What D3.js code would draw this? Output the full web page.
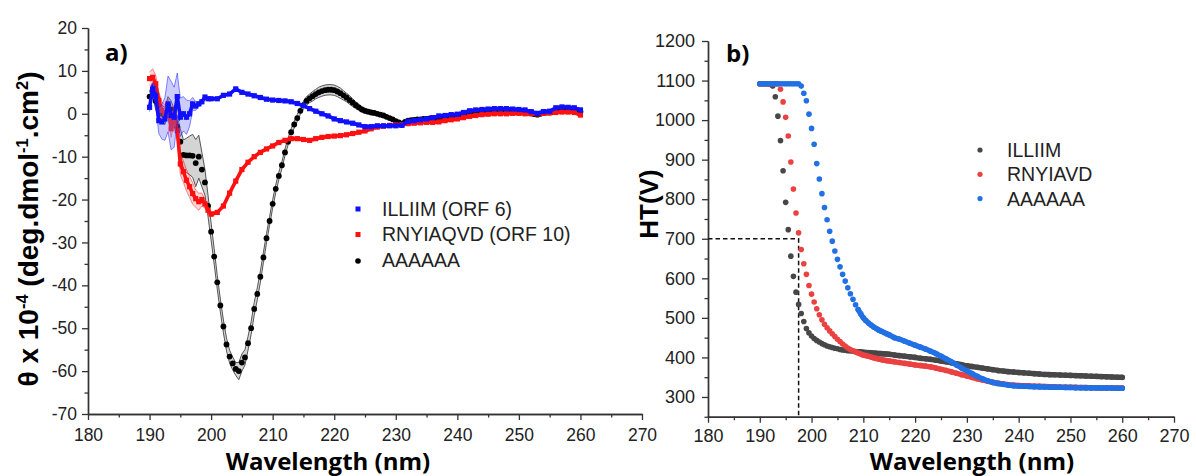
<!DOCTYPE html>
<html>
<head>
<meta charset="utf-8">
<script src="https://cdn.jsdelivr.net/npm/d3@7"></script>
<style>
  body { margin: 0; background: #fff; }
  svg { display: block; }
</style>
</head>
<body>
<div id="chart"></div>
<script>
// ---------- data (a) CD spectra ----------
// sampling grids (nm)
const cdWaveFine = d3.range(190, 260.01, 0.5);                            // AAAAAA
const cdWave = d3.range(190, 200.01, 0.5).concat(d3.range(201, 260.01, 1)); // ILLIIM, RNYIAQVD

const cdAla = [
  4.0, 5.5, 3.0, 1.0, 0.0, -0.5, 2.0, 1.0, -1.0, -3.0,
  -6.5, -9.6, -9.7, -9.7, -9.8, -11.5, -10.0, -13.0, -16.0, -21.5,
  -27.5, -33.3, -39.3, -44.7, -49.6, -53.8, -56.6, -58.2, -59.5, -60.0,
  -58.0, -56.8, -53.5, -50.0, -45.5, -42.0, -38.0, -33.5, -29.0, -25.0,
  -21.0, -17.5, -14.5, -12.0, -9.0, -6.5, -4.3, -2.5, -1.0, 0.7,
  2.0, 3.0, 3.6, 4.1, 4.6, 5.0, 5.3, 5.5, 5.6, 5.6,
  5.5, 5.2, 4.8, 4.3, 3.8, 3.2, 2.6, 2.0, 1.5, 1.0,
  0.7, 0.5, 0.3, 0.2, 0.0, -0.2, -0.4, -0.7, -1.0, -1.3,
  -1.7, -2.0, -2.3, -1.9, -1.6, -1.5, -1.4, -1.3, -1.3, -1.2,
  -1.2, -1.1, -1.0, -1.0, -0.9, -0.8, -0.7, -0.6, -0.5, -0.5,
  -0.4, -0.3, -0.2, -0.1, 0.0, 0.1, 0.2, 0.3, 0.4, 0.4,
  0.5, 0.5, 0.6, 0.6, 0.6, 0.6, 0.6, 0.7, 0.7, 0.7,
  0.6, 0.5, 0.4, 0.3, 0.1, -0.1, -0.2, 0.0, 0.2, 0.3,
  0.3, 0.4, 0.5, 0.6, 0.7, 0.8, 0.8, 0.8, 0.7, 0.6,
  0.5
];
const cdAlaErr = [
  1.0, 1.5, 2.0, 2.0, 2.0, 2.0, 2.0, 2.0, 2.0, 2.5,
  3.0, 3.5, 4.0, 4.5, 5.0, 5.5, 5.0, 4.0, 3.0, 2.5,
  2.0, 1.8, 1.6, 1.5, 1.5, 1.5, 1.5, 1.5, 1.5, 2.0,
  2.0, 1.8, 1.6, 1.5, 1.5, 1.4, 1.3, 1.2, 1.1, 1.0,
  1.0, 0.9, 0.9, 0.8, 0.8, 0.8, 0.8, 0.8, 0.8, 0.8,
  0.9, 1.0, 1.0, 1.1, 1.1, 1.2, 1.2, 1.2, 1.2, 1.2,
  1.2, 1.2, 1.2, 1.1, 1.0, 1.0, 0.9, 0.8, 0.7, 0.6,
  0.6, 0.5, 0.5, 0.5, 0.4, 0.4, 0.4, 0.3, 0.3, 0.3,
  0.3, 0.3, 0.3, 0.3, 0.3, 0.3, 0.3, 0.3, 0.3, 0.3,
  0.3, 0.3, 0.3, 0.3, 0.3, 0.3, 0.3, 0.3, 0.3, 0.3,
  0.3, 0.3, 0.3, 0.3, 0.3, 0.3, 0.3, 0.3, 0.3, 0.3,
  0.3, 0.3, 0.3, 0.3, 0.3, 0.3, 0.3, 0.3, 0.3, 0.3,
  0.3, 0.3, 0.3, 0.3, 0.3, 0.3, 0.3, 0.3, 0.3, 0.3,
  0.3, 0.3, 0.3, 0.3, 0.3, 0.3, 0.3, 0.3, 0.3, 0.3,
  0.3
];

const cdOrf6 = [
  1.5, 5.8, 4.2, -1.6, -1.9, -1.2, 2.3, -0.4, -0.8, 4.0,
  -0.8, 0.0, -0.8, 0.0, 2.3, 1.8, 2.3, 2.8, 3.9, 3.5, 3.5,
  3.5, 4.3, 4.6, 5.8, 5.0, 4.6, 4.2, 3.8, 3.4, 3.2,
  3.1, 3.0, 2.8, 2.4, 1.9, 1.2, 0.6, 0.0, -0.5, -1.2,
  -1.6, -1.9, -2.2, -2.6, -3.0, -3.0, -2.8, -2.8, -2.8, -2.8,
  -2.7, -1.8, -1.6, -1.4, -1.2, -0.9, -0.5, -0.4, -0.2, -0.1,
  0.3, 0.7, 0.9, 1.0, 1.1, 1.2, 1.2, 1.2, 1.1, 1.0,
  0.9, 0.5, 0.1, 0.5, 0.6, 1.4, 1.6, 1.5, 1.4, 0.9
];
const cdOrf6Err = [
  1.0, 1.5, 2.0, 3.0, 4.0, 5.0, 6.5, 8.0, 7.0, 5.5,
  4.5, 4.0, 4.0, 3.0, 1.5, 1.0, 0.6, 0.5, 0.5, 0.4, 0.4,
  0.3, 0.3, 0.3, 0.3, 0.3, 0.3, 0.3, 0.3, 0.3, 0.3,
  0.3, 0.3, 0.3, 0.3, 0.3, 0.3, 0.3, 0.3, 0.3, 0.3,
  0.3, 0.3, 0.3, 0.3, 0.3, 0.3, 0.3, 0.3, 0.3, 0.3,
  0.3, 0.3, 0.3, 0.3, 0.3, 0.3, 0.3, 0.3, 0.3, 0.3,
  0.3, 0.3, 0.3, 0.3, 0.3, 0.3, 0.3, 0.3, 0.3, 0.3,
  0.3, 0.3, 0.3, 0.3, 0.3, 0.3, 0.3, 0.3, 0.3, 0.3
];

const cdOrf10 = [
  8.2, 8.5, 7.0, 3.1, 0.8, 0.0, 1.5, -3.5, 0.0, -3.9,
  -11.7, -13.5, -15.5, -17.0, -18.6, -19.8, -20.5, -20.0, -21.0, -22.5, -23.4,
  -23.0, -21.5, -18.5, -15.7, -13.0, -11.3, -10.0, -9.0, -8.2, -7.5,
  -6.7, -6.2, -5.8, -5.8, -6.0, -6.2, -5.8, -5.5, -5.3, -5.2,
  -5.1, -4.9, -4.6, -4.3, -4.0, -3.5, -3.1, -2.9, -2.7, -2.6,
  -2.5, -2.3, -2.2, -2.1, -2.0, -2.0, -1.9, -1.6, -1.4, -1.2,
  -0.9, -0.6, -0.4, -0.2, -0.1, 0.0, 0.0, 0.0, 0.1, 0.1,
  0.0, 0.0, 0.0, 0.1, 0.2, 0.3, 0.4, 0.4, 0.3, -0.3
];
const cdOrf10Err = [
  1.5, 2.0, 2.0, 2.0, 2.0, 2.0, 2.0, 2.0, 2.0, 2.0,
  2.5, 2.5, 2.5, 2.5, 2.5, 2.0, 2.0, 1.5, 1.0, 0.8, 0.6,
  0.3, 0.3, 0.3, 0.3, 0.3, 0.3, 0.3, 0.3, 0.3, 0.3,
  0.3, 0.3, 0.3, 0.3, 0.3, 0.3, 0.3, 0.3, 0.3, 0.3,
  0.3, 0.3, 0.3, 0.3, 0.3, 0.3, 0.3, 0.3, 0.3, 0.3,
  0.3, 0.3, 0.3, 0.3, 0.3, 0.3, 0.3, 0.3, 0.3, 0.3,
  0.3, 0.3, 0.3, 0.3, 0.3, 0.3, 0.3, 0.3, 0.3, 0.3,
  0.3, 0.3, 0.3, 0.3, 0.3, 0.3, 0.3, 0.3, 0.3, 0.3
];

// ---------- data (b) HT voltage ----------
const htWave = d3.range(190, 215.01, 0.5).concat(d3.range(216, 260.01, 1));

const htIlliim = [
  1092, 1092, 1092, 1092, 1090, 1086, 1059, 1010, 948, 872,
  792, 723, 656, 605, 565, 534, 511, 491, 473, 462,
  454, 448, 443, 439, 435, 432, 429, 427, 425, 423,
  422, 420, 419, 418, 417, 416.5, 416, 415, 414.5, 414,
  413, 412.5, 412, 411.5, 411, 410.5, 410, 409.5, 409, 408.5,
  408,
  406, 404.5, 403, 401.5, 400, 398, 396.5, 395, 393, 391,
  389, 386.5, 384, 381.5, 379, 377, 375, 373, 371, 369,
  367, 365.5, 364, 363, 362, 361, 360, 359, 358, 357,
  356.5, 356, 355.5, 355, 354.5, 354, 353.5, 353, 352.5, 352,
  351.5, 351, 350.5, 350, 349.5
];
const htRnyiavd = [
  1092, 1092, 1092, 1092, 1092, 1092, 1092, 1092, 1078, 1046,
  1007, 960, 894, 826, 765, 715, 673, 637, 610, 582,
  560, 540, 523, 508, 495, 484, 475, 467, 460, 453,
  446, 440, 434, 429, 424, 420, 417, 414, 411, 408.5,
  406, 404.5, 403, 401, 399, 397.5, 396, 394.5, 393, 392,
  391,
  389, 387, 385, 383, 381, 379.5, 378, 376, 373, 370,
  367, 363.5, 360, 356.5, 353, 349.5, 346, 343, 340, 337,
  335, 333, 331, 330, 329, 328.5, 328, 327.5, 327, 326.5,
  326, 325.5, 325, 325, 324.5, 324.5, 324, 324, 323.5, 323.5,
  323, 323, 323, 322.5, 322.5
];
const htAla = [
  1092, 1092, 1092, 1092, 1092, 1092, 1092, 1092, 1092, 1092,
  1092, 1092, 1092, 1092, 1092, 1092, 1086, 1068, 1049, 1015,
  979, 939, 890, 851, 814, 779, 748, 719, 694, 669,
  648, 629, 610, 593, 576, 561, 547, 533, 521, 510,
  500, 493, 487, 482, 477, 473, 469, 466, 463, 460,
  457,
  450, 446, 441, 436, 431, 426, 421, 415.5, 410, 403,
  396, 389, 381, 373, 366, 359, 352, 346, 341, 337,
  334, 332, 330, 328.5, 327.5, 327, 326.5, 326, 325.5, 325,
  325, 324.5, 324.5, 324, 324, 323.5, 323.5, 323, 323, 323,
  322.5, 322.5, 322.5, 322, 322
];

// 700 V cut-off guide
const cutVoltage = 700;
const cutWave = 197.5;

// axes ticks
const waveTicks = d3.range(180, 271, 10);
const waveMinor = d3.range(185, 270, 10);
const cdTicks = d3.range(-70, 21, 10);
const cdMinor = d3.range(-65, 20, 10);
const htTicks = d3.range(300, 1201, 100);
const htMinor = d3.range(250, 1200, 100);

const cdLegend = ['ILLIIM (ORF 6)', 'RNYIAQVD (ORF 10)', 'AAAAAA'];
const htLegend = ['ILLIIM', 'RNYIAVD', 'AAAAAA'];

// ---------- layout ----------
const W = 1196, H = 476;
const svg = d3.select('#chart').append('svg')
  .attr('width', W).attr('height', H);

const tickFont = '"Liberation Sans", Arial, sans-serif';
const titleFont = '"Open Sans", "Liberation Sans", sans-serif';

const xA = d3.scaleLinear().domain([180, 270]).range([88, 642]);
const yA = d3.scaleLinear().domain([-70, 20]).range([414, 28]);
const xB = d3.scaleLinear().domain([180, 270]).range([708, 1174]);
const yB = d3.scaleLinear().domain([250, 1200]).range([416.75, 41]);

const zip = (xs, ys, es) => xs.map((x, i) => ({ x: x, y: ys[i], e: es ? es[i] : 0 }));
const plain = d => String(d);   // "-70", "1200" as in Origin

function drawAxes(x, y, xt, xm, yt, ym, xPad, yPad, fs) {
  const g = svg.append('g');
  const x0 = x.range()[0], y0 = y.range()[0];

  // minor ticks first
  g.append('g').attr('transform', `translate(0,${y0})`)
    .call(d3.axisBottom(x).tickValues(xm).tickSize(3.5).tickSizeOuter(0).tickFormat(''));
  g.append('g').attr('transform', `translate(${x0},0)`)
    .call(d3.axisLeft(y).tickValues(ym).tickSize(3.5).tickSizeOuter(0).tickFormat(''));

  const xa = g.append('g').attr('transform', `translate(0,${y0})`)
    .call(d3.axisBottom(x).tickValues(xt).tickSize(6).tickSizeOuter(0).tickPadding(xPad).tickFormat(plain));
  const ya = g.append('g').attr('transform', `translate(${x0},0)`)
    .call(d3.axisLeft(y).tickValues(yt).tickSize(6).tickSizeOuter(0).tickPadding(yPad).tickFormat(plain));

  g.selectAll('path.domain').attr('stroke', '#333').attr('stroke-width', 1.4);
  g.selectAll('.tick line').attr('stroke', '#333').attr('stroke-width', 1.3);
  [xa, ya].forEach(a => a.selectAll('text')
    .style('font-family', tickFont).style('font-size', fs + 'px').attr('fill', '#222'));
}

// ---------- panel a ----------
const band = (x, y) => d3.area().x(d => x(d.x)).y0(d => y(d.y - d.e)).y1(d => y(d.y + d.e));
const edge = (x, y, s) => d3.line().x(d => x(d.x)).y(d => y(d.y + s * d.e));

const ala = zip(cdWaveFine, cdAla, cdAlaErr);
const orf6 = zip(cdWave, cdOrf6, cdOrf6Err);
const orf10 = zip(cdWave, cdOrf10, cdOrf10Err);

drawAxes(xA, yA, waveTicks, waveMinor, cdTicks, cdMinor, 9, 5, 17.5);

const pa = svg.append('g');

// AAAAAA: grey error band + black dots
pa.append('path').datum(ala).attr('d', band(xA, yA)).attr('fill', '#d4d4d4');
[1, -1].forEach(s => pa.append('path').datum(ala).attr('d', edge(xA, yA, s))
  .attr('fill', 'none').attr('stroke', '#444').attr('stroke-width', 0.9));
pa.append('g').selectAll('circle').data(ala).join('circle')
  .attr('cx', d => xA(d.x)).attr('cy', d => yA(d.y)).attr('r', 2.9).attr('fill', '#000');

function squareSeries(data, color, fill) {
  pa.append('path').datum(data).attr('d', band(xA, yA)).attr('fill', fill);
  [1, -1].forEach(s => pa.append('path').datum(data).attr('d', edge(xA, yA, s))
    .attr('fill', 'none').attr('stroke', color).attr('stroke-opacity', 0.55).attr('stroke-width', 0.9));
  pa.append('path').datum(data)
    .attr('d', d3.line().x(d => xA(d.x)).y(d => yA(d.y)))
    .attr('fill', 'none').attr('stroke', color).attr('stroke-width', 3.6);
  pa.append('g').selectAll('rect').data(data).join('rect')
    .attr('x', d => xA(d.x) - 2.6).attr('y', d => yA(d.y) - 2.6)
    .attr('width', 5.2).attr('height', 5.2).attr('fill', color);
}
squareSeries(orf10, '#ff1010', 'rgba(255,90,90,0.25)');
squareSeries(orf6, '#1010ff', 'rgba(110,110,255,0.35)');

// legend a
const cdColors = ['#1010ff', '#ff1010', '#000'];
const la = svg.append('g');
cdLegend.forEach((t, i) => {
  const yy = 209 + i * 25.5;
  if (i < 2) {
    la.append('rect').attr('x', 355.5).attr('y', yy - 2.5).attr('width', 5).attr('height', 5)
      .attr('fill', cdColors[i]);
  } else {
    la.append('circle').attr('cx', 358).attr('cy', yy + 1).attr('r', 2.8).attr('fill', '#000');
  }
  la.append('text').attr('x', 382).attr('y', yy + 6.5).text(t)
    .style('font-family', tickFont).style('font-size', '19.5px').attr('fill', '#222');
});

// ---------- panel b ----------
drawAxes(xB, yB, waveTicks, waveMinor, htTicks, htMinor, 6.5, 7, 18);

const pb = svg.append('g');

// guide for the 700 V cut-off
pb.append('path')
  .attr('d', `M${xB(180)},${yB(cutVoltage)}H${xB(cutWave)}V${yB(250)}`)
  .attr('fill', 'none').attr('stroke', '#111').attr('stroke-width', 1.5)
  .attr('stroke-dasharray', '4.5,3');

const htColors = ['#474747', '#eb4141', '#2170e4'];
[htIlliim, htRnyiavd, htAla].forEach((vals, k) => {
  const data = zip(htWave, vals);
  // where samples are dense they merge into a solid trace
  pb.append('path').datum(data.filter(d => d.x >= 209))
    .attr('d', d3.line().x(d => xB(d.x)).y(d => yB(d.y)).curve(d3.curveMonotoneX))
    .attr('fill', 'none').attr('stroke', htColors[k]).attr('stroke-width', 5.4)
    .attr('stroke-linecap', 'round');
  pb.append('g').selectAll('circle').data(data).join('circle')
    .attr('cx', d => xB(d.x)).attr('cy', d => yB(d.y)).attr('r', 2.8)
    .attr('fill', htColors[k]);
});

// legend b
const lb = svg.append('g');
htLegend.forEach((t, i) => {
  const yy = 150 + i * 24.3;
  lb.append('circle').attr('cx', 980).attr('cy', yy).attr('r', 2.6).attr('fill', htColors[i]);
  lb.append('text').attr('x', 1007).attr('y', yy + 7).text(t)
    .style('font-family', tickFont).style('font-size', '19.5px').attr('fill', '#222');
});

// ---------- titles ----------
svg.append('text').attr('x', 105).attr('y', 61).text('a)')
  .style('font-family', titleFont).style('font-weight', 700).style('font-size', '24px');
svg.append('text').attr('x', 726).attr('y', 62).text('b)')
  .style('font-family', titleFont).style('font-weight', 700).style('font-size', '24px');

[328, 972].forEach(cx => svg.append('text')
  .attr('x', cx).attr('y', 470).attr('text-anchor', 'middle').text('Wavelength (nm)')
  .style('font-family', titleFont).style('font-weight', 700).style('font-size', '24px'));

// y title a with superscripts
const yTitle = svg.append('text')
  .attr('transform', 'translate(38,229) rotate(-90)')
  .attr('text-anchor', 'middle')
  .style('font-family', tickFont).style('font-weight', 700).style('font-size', '28px');
const parts = [['θ x 10', 0], ['-4', 1], [' (deg.dmol', 0], ['-1', 1], ['.cm', 0], ['2', 1], [')', 0]];
parts.forEach(([t, sup]) => {
  const ts = yTitle.append('tspan').text(t);
  if (sup) ts.attr('dy', -10).style('font-size', '16.5px');
  else if (t !== 'θ x 10') ts.attr('dy', 10);
});

svg.append('text')
  .attr('transform', 'translate(658,204) rotate(-90)')
  .attr('text-anchor', 'middle').text('HT(V)')
  .style('font-family', tickFont).style('font-weight', 700).style('font-size', '26px');
</script>
</body>
</html>
